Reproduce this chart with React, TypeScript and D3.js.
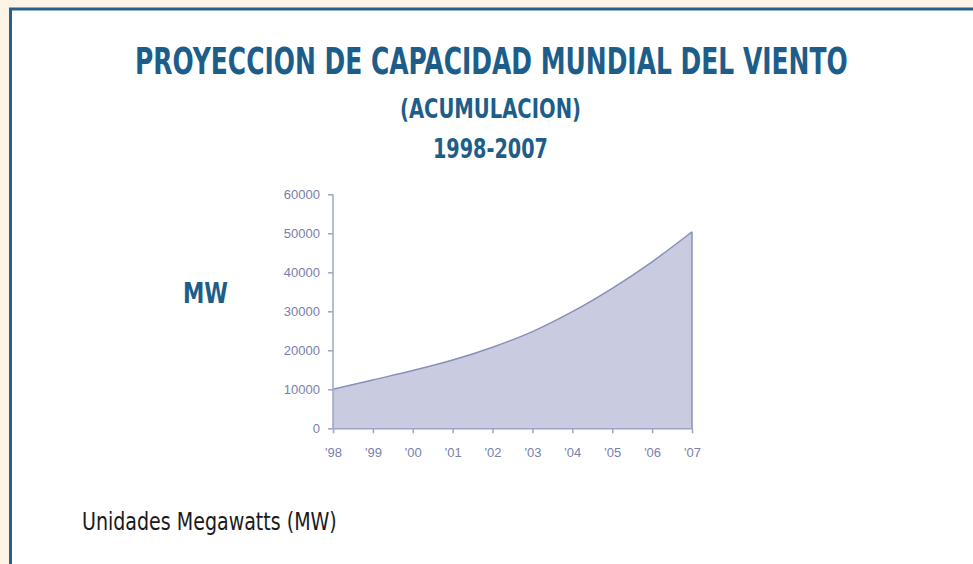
import React, { useEffect, useRef } from "react";
import * as d3 from "d3";

const years = ["'98", "'99", "'00", "'01", "'02", "'03", "'04", "'05", "'06", "'07"];
const capacity = [10000, 12400, 14800, 17500, 20800, 24800, 29900, 35900, 42700, 50400];
const yTicks = [0, 10000, 20000, 30000, 40000, 50000, 60000];

const W = 973;
const H = 564;

export default function App() {
  const svgRef = useRef<SVGSVGElement>(null);

  useEffect(() => {
    const svg = d3.select(svgRef.current);
    svg.selectAll("*").remove();

    // page background + frame
    svg.append("rect").attr("width", W).attr("height", H).attr("fill", "#fdf4e7");
    svg
      .append("rect")
      .attr("x", 10.5)
      .attr("y", 9)
      .attr("width", W + 20)
      .attr("height", H + 20)
      .attr("fill", "#ffffff")
      .attr("stroke", "#286190")
      .attr("stroke-width", 3);

    const titleColor = "#1d5d8a";
    const narrow = "'Liberation Sans Narrow', 'DejaVu Sans Condensed', 'Roboto', sans-serif";

    // squeeze each text horizontally to the width it has in the picture
    const fitText = (t: string, x: number, y: number, size: number, width: number, bold: boolean, color: string) => {
      const node = svg
        .append("text")
        .attr("font-family", narrow)
        .attr("font-weight", bold ? "bold" : "normal")
        .attr("font-size", size)
        .attr("fill", color)
        .text(t);
      const natural = (node.node() as SVGTextElement).getComputedTextLength() || width;
      node.attr("transform", `translate(${x},${y}) scale(${width / natural},1)`);
    };

    fitText("PROYECCION DE CAPACIDAD  MUNDIAL DEL VIENTO", 135, 74, 37, 713, true, titleColor);
    fitText("(ACUMULACION)", 400, 118, 27, 181, true, titleColor);
    fitText("1998-2007", 433, 158, 26, 115, true, titleColor);
    fitText("MW", 183, 303, 29, 45, true, titleColor);
    fitText("Unidades Megawatts (MW)", 82, 530, 24, 255, false, "#1a1a1a");

    const x = d3.scalePoint<string>().domain(years).range([333, 692]);
    const y = d3.scaleLinear().domain([0, 60000]).range([428.3, 194.3]);

    const data = years.map((yr, i) => ({ yr, v: capacity[i] }));

    const area = d3
      .area<{ yr: string; v: number }>()
      .x((d) => x(d.yr) as number)
      .y0(y(0))
      .y1((d) => y(d.v))
      .curve(d3.curveMonotoneX);

    const line = d3
      .line<{ yr: string; v: number }>()
      .x((d) => x(d.yr) as number)
      .y((d) => y(d.v))
      .curve(d3.curveMonotoneX);

    svg.append("path").datum(data).attr("fill", "#c9cce1").attr("d", area);
    svg
      .append("path")
      .datum(data)
      .attr("fill", "none")
      .attr("stroke", "#8990b8")
      .attr("stroke-width", 1.5)
      .attr("d", line);

    // right edge of the area
    const last = data[data.length - 1];
    svg
      .append("line")
      .attr("x1", x(last.yr) as number)
      .attr("x2", x(last.yr) as number)
      .attr("y1", y(0))
      .attr("y2", y(last.v))
      .attr("stroke", "#8990b8")
      .attr("stroke-width", 1.5);

    const axisColor = "#9ea4c8";
    const labelColor = "#7880ab";

    const yAxis = svg
      .append("g")
      .attr("transform", `translate(333,0)`)
      .call(d3.axisLeft(y).tickValues(yTicks).tickSize(5).tickPadding(8).tickFormat((d) => String(d)));
    const xAxis = svg
      .append("g")
      .attr("transform", `translate(0,${y(0)})`)
      .call(d3.axisBottom(x).tickSize(5).tickPadding(14).tickSizeOuter(0));

    [yAxis, xAxis].forEach((g) => {
      g.selectAll("path,line").attr("stroke", axisColor).attr("stroke-width", 1.5);
      g.selectAll("text")
        .attr("fill", labelColor)
        .attr("font-family", "'Liberation Sans', Arial, sans-serif")
        .attr("font-size", 13);
    });
    yAxis.select(".domain").attr("d", `M-0,${y(60000)}V${y(0)}`);
  }, []);

  return (
    <svg
      ref={svgRef}
      width={W}
      height={H}
      style={{ position: "absolute", left: 0, top: 0, display: "block" }}
    />
  );
}
